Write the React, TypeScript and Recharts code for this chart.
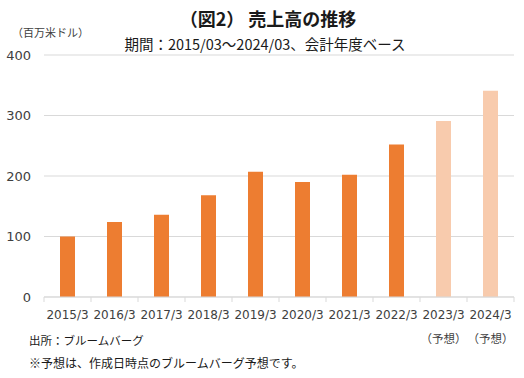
import { BarChart, Bar, XAxis, YAxis, CartesianGrid, Cell } from "recharts";

const categories = ["2015/3", "2016/3", "2017/3", "2018/3", "2019/3", "2020/3", "2021/3", "2022/3", "2023/3", "2024/3"];
const revenue = [100, 124, 136, 168, 207, 190, 202, 252, 291, 341];
const forecast = [false, false, false, false, false, false, false, false, true, true];
const yTicks = [0, 100, 200, 300, 400];

const data = categories.map((c, i) => ({ period: c, revenue: revenue[i], forecast: forecast[i] }));

const JP = "'Noto Sans CJK JP', 'Noto Sans', sans-serif";
const NUM = "'DejaVu Sans', sans-serif";
const BAND = 47;

function PeriodTick(props: any) {
  const { x, y, payload, index, visibleTicksCount } = props;
  const last = index === visibleTicksCount - 1;
  return (
    <g>
      <line x1={x - BAND / 2} x2={x - BAND / 2} y1={y} y2={y + 5} stroke="#d9d9d9" />
      {last && <line x1={x + BAND / 2} x2={x + BAND / 2} y1={y} y2={y + 5} stroke="#d9d9d9" />}
      <text x={x} y={y + 22} textAnchor="middle" fontSize={12} fontFamily={NUM} fill="#404040">
        {payload.value}
      </text>
      {forecast[index] && (
        <text x={x} y={y + 46} textAnchor="middle" fontSize={11.5} fontFamily={JP} fill="#404040">
          （予想）
        </text>
      )}
    </g>
  );
}

export default function App() {
  return (
    <div style={{ position: "absolute", left: 0, top: 0, width: 524, height: 378, background: "#fff" }}>
      <BarChart width={524} height={378} data={data} margin={{ top: 55, right: 10, bottom: 31, left: 4 }}>
        <CartesianGrid vertical={false} stroke="#d9d9d9" />
        <XAxis
          dataKey="period"
          axisLine={{ stroke: "#d9d9d9" }}
          tickLine={false}
          tickSize={0}
          tickMargin={0}
          tick={<PeriodTick />}
          interval={0}
          height={50}
        />
        <YAxis
          domain={[0, 400]}
          ticks={yTicks}
          width={40}
          axisLine={false}
          tickLine={false}
          tickSize={0}
          tickMargin={13}
          tick={{ fontSize: 13, fontFamily: NUM, fill: "#404040" }}
        />
        <Bar dataKey="revenue" barSize={15} isAnimationActive={false}>
          {data.map((d) => (
            <Cell key={d.period} fill={d.forecast ? "#f8cbad" : "#ed7d31"} />
          ))}
        </Bar>
      </BarChart>
      <div style={{ position: "absolute", left: 0, width: 524, top: 5, textAlign: "center", fontFamily: JP, fontWeight: 700, fontSize: 18, color: "#1a1a1a", paddingLeft: 12, boxSizing: "border-box" }}>
        （図2） 売上高の推移
      </div>
      <div style={{ position: "absolute", left: 0, width: 524, top: 33, textAlign: "center", fontFamily: JP, fontSize: 14.5, color: "#1a1a1a", paddingLeft: 6, boxSizing: "border-box" }}>
        期間：2015/03～2024/03、会計年度ベース
      </div>
      <div style={{ position: "absolute", left: 12, top: 24, fontFamily: JP, fontSize: 11, color: "#404040" }}>
        （百万米ドル）
      </div>
      <div style={{ position: "absolute", left: 29, top: 332, fontFamily: JP, fontSize: 11.5, color: "#1a1a1a" }}>
        出所：ブルームバーグ
      </div>
      <div style={{ position: "absolute", left: 29, top: 354, fontFamily: JP, fontSize: 12, color: "#1a1a1a" }}>
        ※予想は、作成日時点のブルームバーグ予想です。
      </div>
    </div>
  );
}
